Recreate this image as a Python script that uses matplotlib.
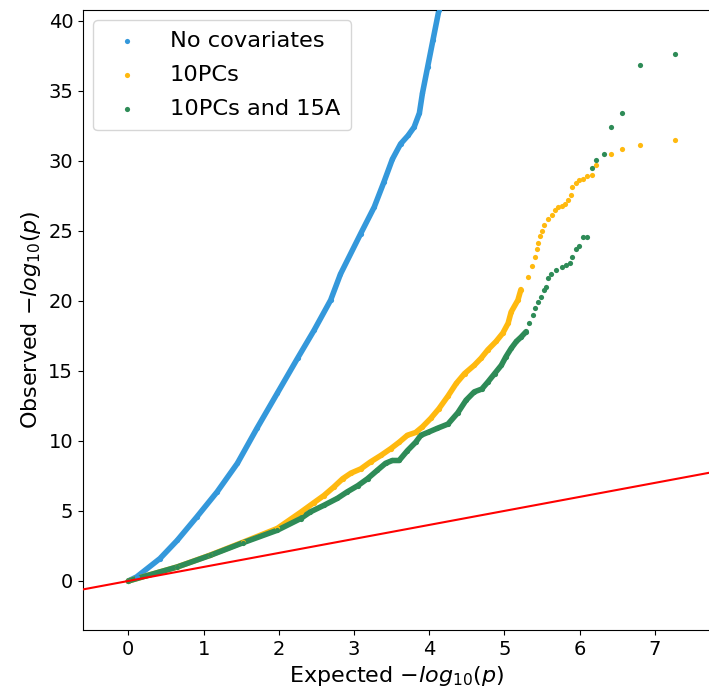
import numpy as np
import matplotlib
matplotlib.use("Agg")
import matplotlib.pyplot as plt

# Expected vs observed -log10(p) values for each model
labels = ["No covariates", "10PCs", "10PCs and 15A"]
colors = ["#3498db", "#ffb90f", "#2e8b57"]

nocov_expected = [0.0, 0.11, 0.42, 0.65, 0.91, 1.18, 1.45, 1.71, 1.98, 2.25, 2.47,
                  2.69, 2.82, 3.09, 3.27, 3.40, 3.51, 3.62, 3.72, 3.80, 3.87, 3.91,
                  3.98, 4.05, 4.13, 4.16]
nocov_observed = [0.0, 0.29, 1.6, 2.9, 4.57, 6.36, 8.4, 10.9, 13.4, 15.9, 17.9,
                  20.05, 21.9, 24.8, 26.7, 28.5, 30.1, 31.2, 31.8, 32.4, 33.4, 34.8,
                  36.7, 38.6, 40.76, 41.5]

pcs_expected = [0.0, 0.65, 1.09, 1.53, 1.98, 2.29, 2.47, 2.60, 2.73, 2.85, 2.96,
                3.09, 3.22, 3.36, 3.49, 3.60, 3.71, 3.82, 3.91, 4.02, 4.13, 4.25,
                4.36, 4.47, 4.60, 4.69, 4.78, 4.89, 4.98, 5.05, 5.09, 5.18, 5.22,
                5.31, 5.37, 5.41, 5.43, 5.45, 5.48, 5.50, 5.53, 5.58, 5.64, 5.67,
                5.71, 5.76, 5.80, 5.85, 5.88, 5.90, 5.95, 5.99, 6.04, 6.10, 6.17,
                6.22, 6.42, 6.57, 6.80, 7.27]
pcs_observed = [0.0, 1.0, 1.85, 2.78, 3.75, 4.9, 5.6, 6.1, 6.7, 7.3, 7.7,
                8.0, 8.5, 8.97, 9.45, 9.9, 10.4, 10.6, 11.0, 11.6, 12.3, 13.2,
                14.1, 14.8, 15.4, 15.9, 16.5, 17.1, 17.7, 18.4, 19.2, 20.05, 20.8,
                21.7, 22.45, 23.1, 23.7, 24.1, 24.6, 25.0, 25.4, 25.85, 26.1, 26.5,
                26.7, 26.8, 26.9, 27.2, 27.55, 28.1, 28.4, 28.6, 28.7, 28.9, 29.0,
                29.7, 30.5, 30.8, 31.1, 31.5]

pcs15a_expected = [0.0, 0.65, 1.09, 1.53, 1.98, 2.29, 2.42, 2.60, 2.78, 2.91, 3.05,
                   3.18, 3.31, 3.42, 3.51, 3.60, 3.71, 3.82, 3.89, 3.98, 4.11, 4.25,
                   4.38, 4.49, 4.60, 4.70, 4.78, 4.87, 4.96, 5.02, 5.09, 5.16, 5.22,
                   5.29, 5.33, 5.38, 5.41, 5.45, 5.49, 5.53, 5.55, 5.58, 5.62, 5.69,
                   5.76, 5.82, 5.87, 5.90, 5.95, 5.99, 6.05, 6.10, 6.17, 6.22, 6.32,
                   6.42, 6.57, 6.80, 7.27]
pcs15a_observed = [0.0, 1.0, 1.83, 2.74, 3.62, 4.45, 4.93, 5.4, 5.9, 6.36, 6.8,
                   7.3, 7.9, 8.4, 8.6, 8.6, 9.3, 9.9, 10.4, 10.6, 10.9, 11.2,
                   12.0, 12.9, 13.5, 13.7, 14.2, 14.8, 15.4, 16.0, 16.6, 17.1, 17.4,
                   17.8, 18.4, 19.0, 19.45, 19.9, 20.3, 20.8, 21.0, 21.6, 21.9, 22.2,
                   22.4, 22.55, 22.7, 23.1, 23.7, 23.9, 24.55, 24.55, 29.5, 30.05, 30.5,
                   32.4, 33.4, 36.8, 37.6]

series = [
    (nocov_expected, nocov_observed),
    (pcs_expected, pcs_observed),
    (pcs15a_expected, pcs15a_observed),
]

DENSE_UNTIL = 5.3      # beyond this the points no longer merge into a band
BAND_WIDTH = 4.0       # pt, width of the merged point band
POINT_SIZE = 14        # scatter marker area

fig = plt.figure(figsize=(7.09, 6.92), dpi=100)
ax = fig.add_axes([0.117, 0.0896, 0.885, 0.896])

for (xs, ys), lab, col in zip(series, labels, colors):
    xs = np.asarray(xs)
    ys = np.asarray(ys)
    dense = xs <= DENSE_UNTIL
    ax.plot(xs[dense], ys[dense], color=col, lw=BAND_WIDTH,
            solid_capstyle="round", solid_joinstyle="round", zorder=2)
    ax.scatter(xs, ys, s=POINT_SIZE, color=col, label=lab,
               linewidths=0, zorder=3)

# Null expectation: observed == expected
ax.axline((0, 0), slope=1, color="red", lw=1.5, zorder=4)

ax.set_xlim(-0.604, 7.74)
ax.set_ylim(-3.5, 40.76)
ax.set_xticks(range(0, 8))
ax.set_yticks(range(0, 41, 5))
ax.tick_params(labelsize=14)

ax.set_xlabel(r"Expected $-log_{10}(p)$", fontsize=16)
ax.set_ylabel(r"Observed $-log_{10}(p)$", fontsize=16)

ax.legend(loc="upper left", fontsize=16.2, markerscale=1.0,
          borderaxespad=0.45, handletextpad=0.9, borderpad=0.5,
          labelspacing=0.62)

fig.savefig("out.png", dpi=100)
